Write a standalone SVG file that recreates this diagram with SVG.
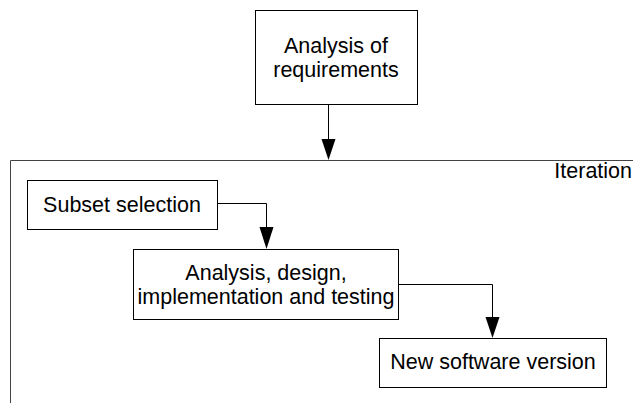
<svg xmlns="http://www.w3.org/2000/svg" width="633" height="403" viewBox="0 0 633 403">
<style>
.box{fill:#fff;stroke:#000;stroke-width:1}
.t{font-family:"Liberation Sans",Arial,sans-serif;font-size:21.5px;fill:#000;text-anchor:middle}
.c{fill:none;stroke:#000;stroke-width:1}
.frame{fill:none;stroke:#444;stroke-width:1}
</style>
<defs>
<marker id="ah" viewBox="0 0 14 22" refX="14" refY="7" markerWidth="14" markerHeight="22" markerUnits="userSpaceOnUse" orient="auto">
<path d="M0,0 L22,7 L0,14 Z" fill="#000" transform="scale(0.64,1)"/>
</marker>
</defs>
<g id="frame">
<path class="frame" d="M10.5,403 V160.5 H633"/>
<text x="632" y="178" class="t" style="text-anchor:end">Iteration</text>
</g>
<g id="connectors">
<path class="c" d="M328.5,104 V146"/>
<path d="M321.5,139 L335.5,139 L328.5,160 Z" fill="#000"/>
<path class="c" d="M217,203.5 H266.5 V234"/>
<path d="M259.5,227 L273.5,227 L266.5,249 Z" fill="#000"/>
<path class="c" d="M398,284.5 H492.5 V324"/>
<path d="M485.5,317 L499.5,317 L492.5,338 Z" fill="#000"/>
</g>
<g id="n1">
<rect class="box" x="255.5" y="10.5" width="162" height="94"/>
<text class="t" x="336" y="52.5">Analysis of</text>
<text class="t" x="336" y="76.5">requirements</text>
</g>
<g id="n2">
<rect class="box" x="27.5" y="180.5" width="190" height="49"/>
<text class="t" x="122" y="212">Subset selection</text>
</g>
<g id="n3">
<rect class="box" x="133.5" y="249.5" width="265" height="70"/>
<text class="t" x="266" y="280">Analysis, design,</text>
<text class="t" x="266" y="304">implementation and testing</text>
</g>
<g id="n4">
<rect class="box" x="379.5" y="338.5" width="227" height="49"/>
<text class="t" x="493" y="369">New software version</text>
</g>
</svg>
